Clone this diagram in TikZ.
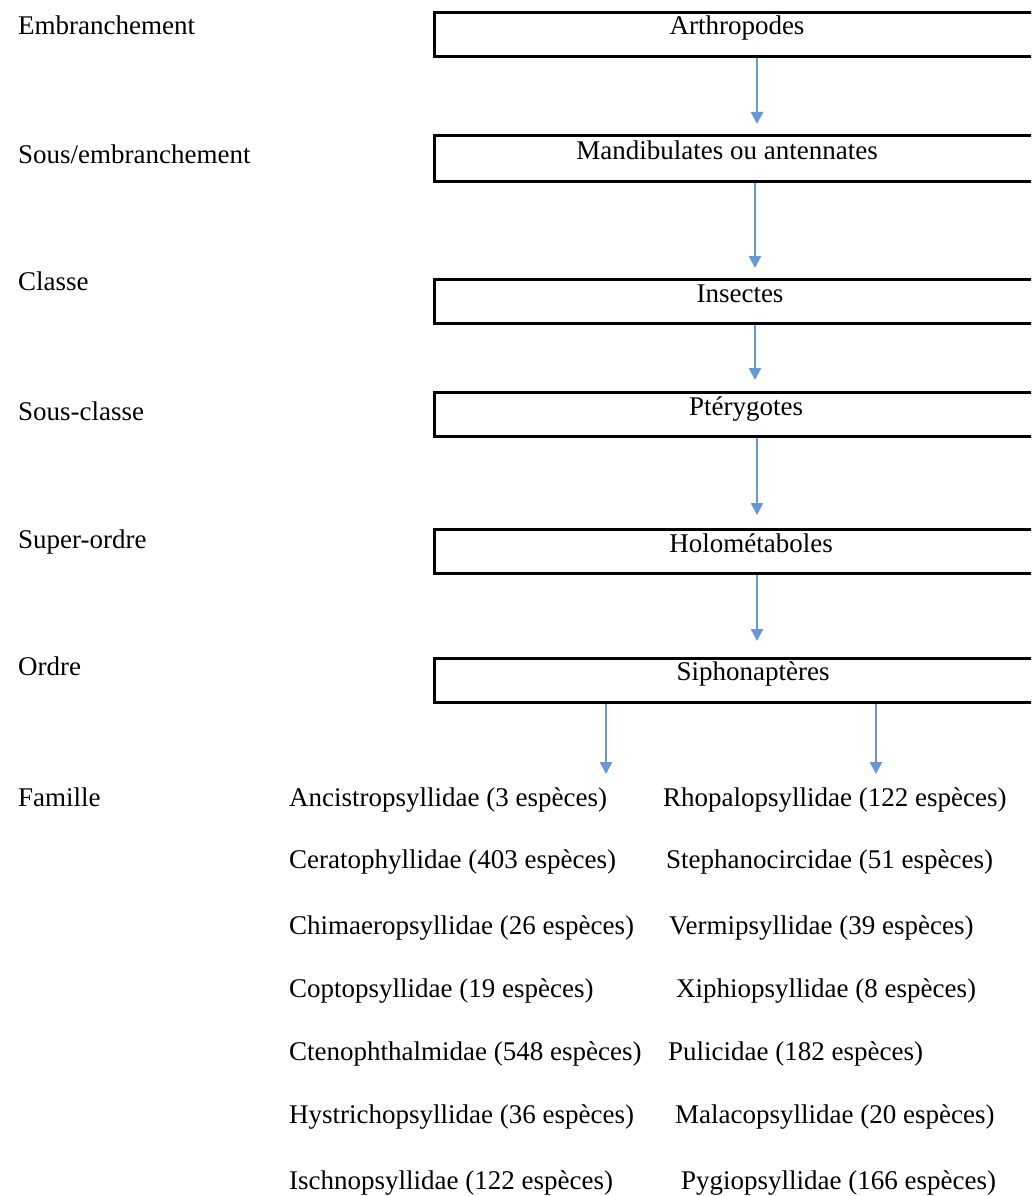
\documentclass[tikz,border=0pt]{standalone}
\usepackage{fontspec}
\setmainfont{Liberation Serif}
\usetikzlibrary{arrows.meta}
\definecolor{arrblue}{RGB}{105,150,212}
\begin{document}
\begin{tikzpicture}[x=1pt,y=-1pt,
  lbl/.style={anchor=base west,inner sep=0pt,font=\fontsize{27}{32}\selectfont},
  btxt/.style={anchor=base,inner sep=0pt,font=\fontsize{27}{32}\selectfont},
  box/.style={draw=black,line width=2.6pt,anchor=north west,minimum width=680,minimum height=44,inner sep=0pt},
  arr/.style={draw=arrblue,line width=2.4pt,-{Triangle[length=12pt,width=12pt]}}]
\useasboundingbox (0,0) rectangle (1031,1196);
\fill[white] (0,0) rectangle (1031,1196);
\clip (0,0) rectangle (1031,1196);
% boxes
\node[box] (b1) at (433,11) {};
\node[box,minimum height=46] (b2) at (433,134) {};
\node[box] (b3) at (433,278) {};
\node[box] (b4) at (433,391) {};
\node[box] (b5) at (433,528) {};
\node[box] (b6) at (433,657) {};
% box texts
\node[btxt] (t1) at (737,35) {Arthropodes};
\node[btxt] (t2) at (727,159) {Mandibulates ou antennates};
\node[btxt] (t3) at (740,302) {Insectes};
\node[btxt] (t4) at (746,415) {Ptérygotes};
\node[btxt] (t5) at (751,552) {Holométaboles};
\node[btxt] (t6) at (753,680) {Siphonaptères};
% left labels
\node[lbl] (l1) at (18,35) {Embranchement};
\node[lbl] (l2) at (18,163) {Sous/embranchement};
\node[lbl] (l3) at (18,290) {Classe};
\node[lbl] (l4) at (18,420) {Sous-classe};
\node[lbl] (l5) at (18,548) {Super-ordre};
\node[lbl] (l6) at (18,675) {Ordre};
\node[lbl] (l7) at (18,806) {Famille};
% families left
\node[lbl] (fl1) at (289,806) {Ancistropsyllidae (3 espèces)};
\node[lbl] (fl2) at (289,868) {Ceratophyllidae (403 espèces)};
\node[lbl] (fl3) at (289,934) {Chimaeropsyllidae (26 espèces)};
\node[lbl] (fl4) at (289,997) {Coptopsyllidae (19 espèces)};
\node[lbl] (fl5) at (289,1060) {Ctenophthalmidae (548 espèces)};
\node[lbl] (fl6) at (289,1123) {Hystrichopsyllidae (36 espèces)};
\node[lbl] (fl7) at (289,1189) {Ischnopsyllidae (122 espèces)};
% families right
\node[lbl] (fr1) at (663,806) {Rhopalopsyllidae (122 espèces)};
\node[lbl] (fr2) at (666,868) {Stephanocircidae (51 espèces)};
\node[lbl] (fr3) at (669,934) {Vermipsyllidae (39 espèces)};
\node[lbl] (fr4) at (676,997) {Xiphiopsyllidae (8 espèces)};
\node[lbl] (fr5) at (668,1060) {Pulicidae (182 espèces)};
\node[lbl] (fr6) at (675,1123) {Malacopsyllidae (20 espèces)};
\node[lbl] (fr7) at (681,1189) {Pygiopsyllidae (166 espèces)};
% arrows
\draw[arr,shorten >=10pt] (b1.south -| 757,0) -- (b2.north -| 757,0);
\draw[arr,shorten >=10pt] (b2.south -| 755,0) -- (b3.north -| 755,0);
\draw[arr,shorten >=11pt] (b3.south -| 755,0) -- (b4.north -| 755,0);
\draw[arr,shorten >=13pt] (b4.south -| 757,0) -- (b5.north -| 757,0);
\draw[arr,shorten >=16pt] (b5.south -| 757,0) -- (b6.north -| 757,0);
\draw[arr,shorten >=13pt] (b6.south -| 606,0) -- (fl1.north -| 606,0);
\draw[arr,shorten >=13pt] (b6.south -| 876,0) -- (fr1.north -| 876,0);
\end{tikzpicture}
\end{document}
